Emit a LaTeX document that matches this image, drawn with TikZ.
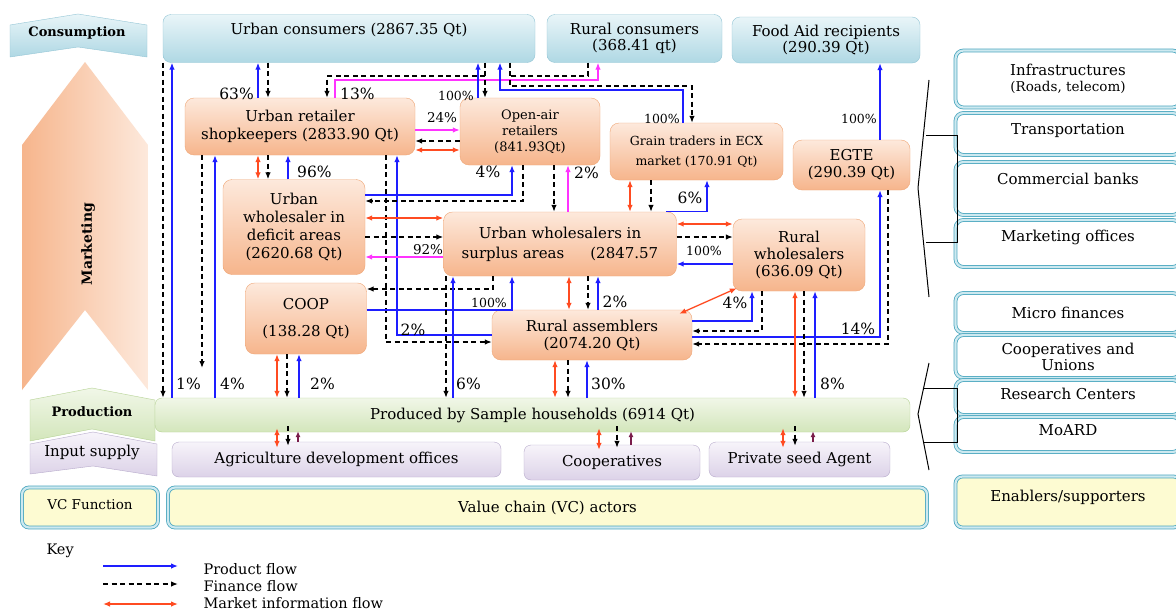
\documentclass[tikz,border=0pt]{standalone}
\usepackage{fontspec}
\setmainfont{DejaVu Serif}
\usepackage{tikz}
\usetikzlibrary{arrows.meta, positioning}

\definecolor{pchA}{HTML}{FDE9DC}
\definecolor{pchB}{HTML}{F6B58C}
\definecolor{pchL}{HTML}{EFA676}
\definecolor{bluA}{HTML}{E9F5F8}
\definecolor{bluB}{HTML}{AFD8E4}
\definecolor{bluL}{HTML}{94C6D6}
\definecolor{grnA}{HTML}{F1F7E8}
\definecolor{grnB}{HTML}{D3E6BB}
\definecolor{grnL}{HTML}{B5D293}
\definecolor{lavA}{HTML}{F7F4FA}
\definecolor{lavB}{HTML}{DCD2E8}
\definecolor{lavL}{HTML}{B7AACB}
\definecolor{ylw}{HTML}{FDFBD2}
\definecolor{tealD}{HTML}{4BA7BF}
\definecolor{tealL}{HTML}{CDE9F0}
\definecolor{prodc}{HTML}{1E1EFF}
\definecolor{infoc}{HTML}{FF4B21}
\definecolor{pinkc}{HTML}{FF33FF}
\definecolor{inpc}{HTML}{7A1D4B}

\begin{document}
\begin{tikzpicture}[x=1pt,y=-1pt]
    \tikzset{actor/.style = {rounded corners=9pt, draw=pchL, top color=pchA, bottom color=pchB, align=center, inner sep=2pt, font=\fontsize{15}{18}\selectfont}}
    \tikzset{cons/.style = {rounded corners=8pt, draw=bluL, top color=bluA, bottom color=bluB, align=center, inner sep=2pt, font=\fontsize{15}{16}\selectfont}}
    \tikzset{prodbar/.style = {rounded corners=7pt, draw=grnL, top color=grnA, bottom color=grnB, font=\fontsize{15}{18}\selectfont}}
    \tikzset{inbox/.style = {rounded corners=7pt, draw=lavL, top color=lavA, bottom color=lavB, font=\fontsize{15}{18}\selectfont}}
    \tikzset{vcbox/.style = {rounded corners=7pt, draw=tealD, line width=0.8pt, double=tealL, double distance=2.2pt, fill=ylw, font=\fontsize{15}{18}\selectfont}}
    \tikzset{supp/.style = {rounded corners=8pt, draw=tealD, line width=0.8pt, double=tealL, double distance=2.2pt, fill=white, align=center, minimum width=225, font=\fontsize{15}{16}\selectfont}}
    \tikzset{band/.style = {font=\fontsize{13}{15}\selectfont\bfseries}}
    \tikzset{pct/.style = {inner sep=1pt, font=\fontsize{15.5}{17}\selectfont}}
    \tikzset{pcts/.style = {inner sep=1pt, font=\fontsize{12.5}{14}\selectfont}}
    \tikzset{keyfont/.style = {font=\fontsize{14.5}{16}\selectfont}}
    \tikzset{prod/.style = {->, > = {Latex[length=7pt,width=5.5pt]}, draw=prodc, line width=1.3pt}}
    \tikzset{fin/.style = {->, > = {Latex[length=7pt,width=5.5pt]}, draw=black, line width=1.3pt, dash pattern=on 5pt off 3.5pt}}
    \tikzset{info/.style = {<->, > = {Latex[length=7pt,width=5.5pt]}, draw=infoc, line width=1.3pt}}
    \tikzset{pink/.style = {->, > = {Latex[length=7pt,width=5.5pt]}, draw=pinkc, line width=1.3pt}}
    \tikzset{inp/.style = {->, > = {Latex[length=6pt,width=5pt]}, draw=inpc, line width=1.3pt}}
    \tikzset{brk/.style = {draw=black, line width=1pt}}

    \useasboundingbox (0,0) rectangle (1176,613);
    \fill[white] (0,0) rectangle (1176,613);

    % function banners
    \path[draw=bluL, top color=bluA, bottom color=bluB] (10,25) -- (78,14) -- (147,25) -- (147,57) -- (78,47) -- (10,57) -- cycle;
    \node[band] (consumption) at (77,33) {Consumption};
    \path[left color=pchB, right color=pchA] (85,62) -- (148,145) -- (148,390) -- (85,310) -- (22,390) -- (22,145) -- cycle;
    \node[band, rotate=90, font=\fontsize{14}{15}\selectfont\bfseries] (marketing) at (88,244) {Marketing};
    \path[draw=lavL, top color=lavA, bottom color=lavB] (30,444) -- (93,432) -- (157,444) -- (157,476) -- (93,466) -- (30,474) -- cycle;
    \node[font=\fontsize{15}{16}\selectfont] (input) at (92,452) {Input supply};
    \path[draw=grnL, top color=grnA, bottom color=grnB] (30,400) -- (92,388) -- (155,400) -- (155,441) -- (92,429) -- (30,441) -- cycle;
    \node[band] (production) at (92,412) {Production};
    \node[vcbox, minimum width=136, minimum height=40, text depth=7pt, font=\fontsize{13.5}{16}\selectfont] (vcf) at (90,507.5) {VC Function};

    % consumers
    \node[cons, minimum width=372, minimum height=48, text depth=20pt] (uc) at (349,38.5) {Urban consumers (2867.35 Qt)};
    \node[cons, minimum width=175, minimum height=48] (rc) at (634.5,38.5) {Rural consumers\\(368.41 qt)};
    \node[cons, minimum width=188, minimum height=46] (fa) at (826,40) {Food Aid recipients\\(290.39 Qt)};

    % traders
    \node[actor, minimum width=230, minimum height=57] (ur) at (300,126.5) {Urban retailer\\shopkeepers (2833.90 Qt)};
    \node[actor, minimum width=140, minimum height=67, font=\fontsize{13}{16}\selectfont] (oa) at (530,131.5) {Open-air\\retailers\\(841.93Qt)};
    \node[actor, minimum width=173, minimum height=57, font=\fontsize{12.5}{20}\selectfont] (gt) at (696.5,151.5) {Grain traders in ECX\\market (170.91 Qt)};
    \node[actor, minimum width=117, minimum height=50, font=\fontsize{15}{17}\selectfont] (egte) at (851.5,165) {EGTE\\(290.39 Qt)};
    \node[actor, minimum width=142, minimum height=95] (uwd) at (294,227) {Urban\\wholesaler in\\deficit areas\\(2620.68 Qt)};
    \node[actor, minimum width=233, minimum height=64, font=\fontsize{15}{20}\selectfont] (uws) at (560,244) {Urban wholesalers in\\surplus areas\hspace{26pt}(2847.57};
    \node[actor, minimum width=132, minimum height=72, font=\fontsize{15}{17}\selectfont] (rw) at (799,255) {Rural\\wholesalers\\(636.09 Qt)};
    \node[actor, minimum width=121, minimum height=71] (coop) at (306,318.5) {COOP\\[9pt](138.28 Qt)};
    \node[actor, minimum width=200, minimum height=50, font=\fontsize{15}{17}\selectfont] (ra) at (592,335) {Rural assemblers\\(2074.20 Qt)};

    % producers and inputs
    \node[prodbar, minimum width=755, minimum height=34] (hh) at (532.5,415) {Produced by Sample households (6914 Qt)};
    \node[inbox, minimum width=329, minimum height=35] (ado) at (336.5,459.5) {Agriculture development offices};
    \node[inbox, minimum width=176, minimum height=35] (coopin) at (612,462.5) {Cooperatives};
    \node[inbox, minimum width=181, minimum height=35] (psa) at (799.5,459.5) {Private seed Agent};
    \node[vcbox, minimum width=759, minimum height=40] (vca) at (547.5,507.5) {Value chain (VC) actors};

    % enablers
    \node[supp, minimum height=57] (infra) at (1068,79) {Infrastructures\\{\fontsize{13.5}{16}\selectfont (Roads, telecom)}};
    \node[supp, minimum height=42, text depth=11pt] (trans) at (1068,134) {Transportation};
    \node[supp, minimum height=53, text depth=20pt] (bank) at (1068,188.5) {Commercial banks};
    \node[supp, minimum height=47, text depth=16pt] (mkto) at (1068,243.5) {Marketing offices};
    \node[supp, minimum height=40] (micro) at (1068,313) {Micro finances};
    \node[supp, minimum height=43] (coopu) at (1068,356.5) {Cooperatives and\\Unions};
    \node[supp, minimum height=35, text depth=8pt] (resc) at (1068,397.5) {Research Centers};
    \node[supp, minimum height=35, text depth=8pt] (moard) at (1068,434.5) {MoARD};
    \node[vcbox, minimum width=225, minimum height=51, text depth=13pt] (ens) at (1068,502) {Enablers/supporters};

    % brackets
    \draw[brk] (929,80) -- (918,188) -- (929,297);
    \draw[brk] (926,135) -- (957,135) -- (957,242) -- (926,242);
    \draw[brk] (929,363) -- (918,414) -- (929,470);
    \draw[brk] (924,388) -- (957,388) -- (957,442) -- (924,442);

    %edges
    \coordinate (j1) at (485,76);
    \coordinate (e1) at (202,368);
    \draw[fin] (uc.south -| 163,0) -- (hh.north -| 163,0);
    \draw[prod] (hh.north -| 172,0) -- (uc.south -| 172,0);
    \draw[fin] (ur.south -| 202,0) -- (e1);
    \draw[prod] (hh.north -| 215,0) -- (ur.south -| 215,0);
    \draw[prod] (ur.north -| 258,0) -- (uc.south -| 258,0);
    \draw[fin] (uc.south -| 268,0) -- (ur.north -| 268,0);
    \draw[info] (ur.south -| 258,0) -- (uwd.north -| 258,0);
    \draw[fin] (ur.south -| 268,0) -- (uwd.north -| 268,0);
    \draw[prod] (uwd.north -| 288,0) -- (ur.south -| 288,0);
    \draw[pink] (ur.north -| 335,0) |- (598,80) -- (rc.south -| 598,0);
    \draw[fin] (j1) -| (ur.north -| 327,0);
    \draw[fin] (uc.south -| 485,0) -- (oa.north -| 485,0);
    \draw[prod] (oa.north -| 478,0) -- (uc.south -| 478,0);
    \draw[prod] (gt.north -| 683,0) |- (500,90) -- (uc.south -| 500,0);
    \draw[fin] (uc.south -| 510,0) |- (692,86) -- (gt.north -| 692,0);
    \draw[fin, -] (rc.south -| 588,0) |- (510,76);
    \draw[pink] (ur.east |- 0,130) -- (oa.west |- 0,130);
    \draw[fin] (oa.west |- 0,141) -- (ur.east |- 0,141);
    \draw[info] (ur.east |- 0,150) -- (oa.west |- 0,150);
    \draw[prod] (ra.west |- 0,335) -| (ur.south -| 397,0);
    \draw[fin] (ur.south -| 386,0) |- (ra.west |- 0,342);
    \draw[prod] (uwd.east |- 0,195) -| (oa.south -| 512,0);
    \draw[fin] (oa.south -| 523,0) |- (uwd.east |- 0,201);
    \draw[fin] (oa.south -| 554,0) -- (uws.north -| 554,0);
    \draw[pink] (uws.north -| 568,0) -- (oa.south -| 568,0);
    \draw[info] (uwd.east |- 0,218) -- (uws.west |- 0,218);
    \draw[fin] (uwd.east |- 0,237) -- (uws.west |- 0,237);
    \draw[pink] (uws.west |- 0,257) -- (uwd.east |- 0,257);
    \draw[fin] (uws.south -| 493,0) |- (coop.east |- 0,289);
    \draw[prod] (coop.east |- 0,310) -| (uws.south -| 512,0);
    \draw[prod] (hh.north -| 453,0) -- (uws.south -| 453,0);
    \draw[fin] (uws.south -| 446,0) -- (hh.north -| 446,0);
    \draw[info] (coop.south -| 277,0) -- (hh.north -| 277,0);
    \draw[fin] (coop.south -| 287,0) -- (hh.north -| 287,0);
    \draw[prod] (hh.north -| 299,0) -- (coop.south -| 299,0);
    \draw[info] (gt.south -| 630,0) -- (uws.north -| 630,0);
    \draw[fin] (gt.south -| 651,0) -- (uws.north -| 651,0);
    \draw[prod] (uws.north -| 666,0) -| (gt.south -| 707,0);
    \draw[info] (uws.east |- 0,224) -- (rw.west |- 0,224);
    \draw[fin] (uws.east |- 0,237) -- (rw.west |- 0,237);
    \draw[prod] (rw.west |- 0,264) -- (uws.east |- 0,264);
    \draw[info] (uws.south -| 569,0) -- (ra.north -| 569,0);
    \draw[fin] (uws.south -| 588,0) -- (ra.north -| 588,0);
    \draw[prod] (ra.north -| 598,0) -- (uws.south -| 598,0);
    \draw[info] ([xshift=-13pt,yshift=-4pt]ra.north east) -- ([xshift=4pt,yshift=3pt]rw.south west);
    \draw[prod] (ra.east |- 0,321) -| (rw.south -| 752,0);
    \draw[fin] (rw.south -| 762,0) |- (ra.east |- 0,331);
    \draw[prod] (ra.east |- 0,337) -| (egte.south -| 880,0);
    \draw[fin] (egte.south -| 888,0) |- (ra.east |- 0,344);
    \draw[info] (rw.south -| 795,0) -- (hh.north -| 795,0);
    \draw[fin] (rw.south -| 804,0) -- (hh.north -| 804,0);
    \draw[prod] (hh.north -| 815,0) -- (rw.south -| 815,0);
    \draw[info] (ra.south -| 555,0) -- (hh.north -| 555,0);
    \draw[fin] (ra.south -| 568,0) -- (hh.north -| 568,0);
    \draw[prod] (hh.north -| 587,0) -- (ra.south -| 587,0);
    \draw[prod] (egte.north -| 880,0) -- (fa.south -| 880,0);
    \draw[info, shorten <=-4pt, shorten >=-6pt] (hh.south -| 277,0) -- (ado.north -| 277,0);
    \draw[fin, shorten <=-6pt, shorten >=-4pt] (hh.south -| 288,0) -- (ado.north -| 288,0);
    \draw[inp, shorten >=-1pt] (ado.north -| 298,0) -- (hh.south -| 298,0);
    \draw[info, shorten <=-4pt, shorten >=-5pt] (hh.south -| 599,0) -- (coopin.north -| 599,0);
    \draw[fin, shorten <=-6pt, shorten >=-3pt] (hh.south -| 617,0) -- (coopin.north -| 617,0);
    \draw[inp, shorten >=-1pt] (coopin.north -| 631,0) -- (hh.south -| 631,0);
    \draw[info, shorten <=-4pt, shorten >=-6pt] (hh.south -| 783,0) -- (psa.north -| 783,0);
    \draw[fin, shorten <=-6pt, shorten >=-4pt] (hh.south -| 795,0) -- (psa.north -| 795,0);
    \draw[inp, shorten >=-1pt] (psa.north -| 813,0) -- (hh.south -| 813,0);

    % shares
    \node[pct, anchor=east] (l63) at (255,94) {63\%};
    \node[pct, anchor=west] (l13) at (339,94) {13\%};
    \node[pcts, anchor=east] (l100a) at (475,96) {100\%};
    \node[pct, font=\fontsize{13.5}{15}\selectfont] (l24) at (442,118) {24\%};
    \node[pcts, anchor=east] (l100b) at (681,119) {100\%};
    \node[pcts, anchor=east] (l100c) at (878,119) {100\%};
    \node[pct, anchor=west] (l96) at (296,172) {96\%};
    \node[pct] (l4a) at (488,172) {4\%};
    \node[pct, anchor=west] (l2a) at (573,173) {2\%};
    \node[pct] (l6a) at (690,198) {6\%};
    \node[pct, font=\fontsize{13.5}{15}\selectfont] (l92) at (428,250) {92\%};
    \node[pcts] (l100d) at (704,251) {100\%};
    \node[pcts] (l100e) at (489,303) {100\%};
    \node[pct] (l2b) at (615,302) {2\%};
    \node[pct] (l4b) at (735,303) {4\%};
    \node[pct] (l2c) at (413,330) {2\%};
    \node[pct] (l14) at (858,329) {14\%};
    \node[pct, anchor=west] (l1) at (175,384) {1\%};
    \node[pct, anchor=west] (l4c) at (219,384) {4\%};
    \node[pct, anchor=west] (l2d) at (309,384) {2\%};
    \node[pct, anchor=west] (l6b) at (455,384) {6\%};
    \node[pct, anchor=west] (l30) at (590,384) {30\%};
    \node[pct, anchor=west] (l8) at (819,384) {8\%};

    % key
    \node[keyfont, anchor=west] (key) at (43,551) {Key};
    \coordinate (ka1) at (103,566);
    \coordinate (kb1) at (178,566);
    \coordinate (ka2) at (103,584);
    \coordinate (kb2) at (178,584);
    \coordinate (ka3) at (103,604);
    \coordinate (kb3) at (178,604);
    \draw[prod] (ka1) -- (kb1);
    \draw[fin] (ka2) -- (kb2);
    \draw[info] (ka3) -- (kb3);
    \node[keyfont, right=22pt of kb1, yshift=-3pt] (kt1) {Product flow};
    \node[keyfont, right=22pt of kb2, yshift=-2pt] (kt2) {Finance flow};
    \node[keyfont, right=22pt of kb3, yshift=1pt] (kt3) {Market information flow};
\end{tikzpicture}
\end{document}
